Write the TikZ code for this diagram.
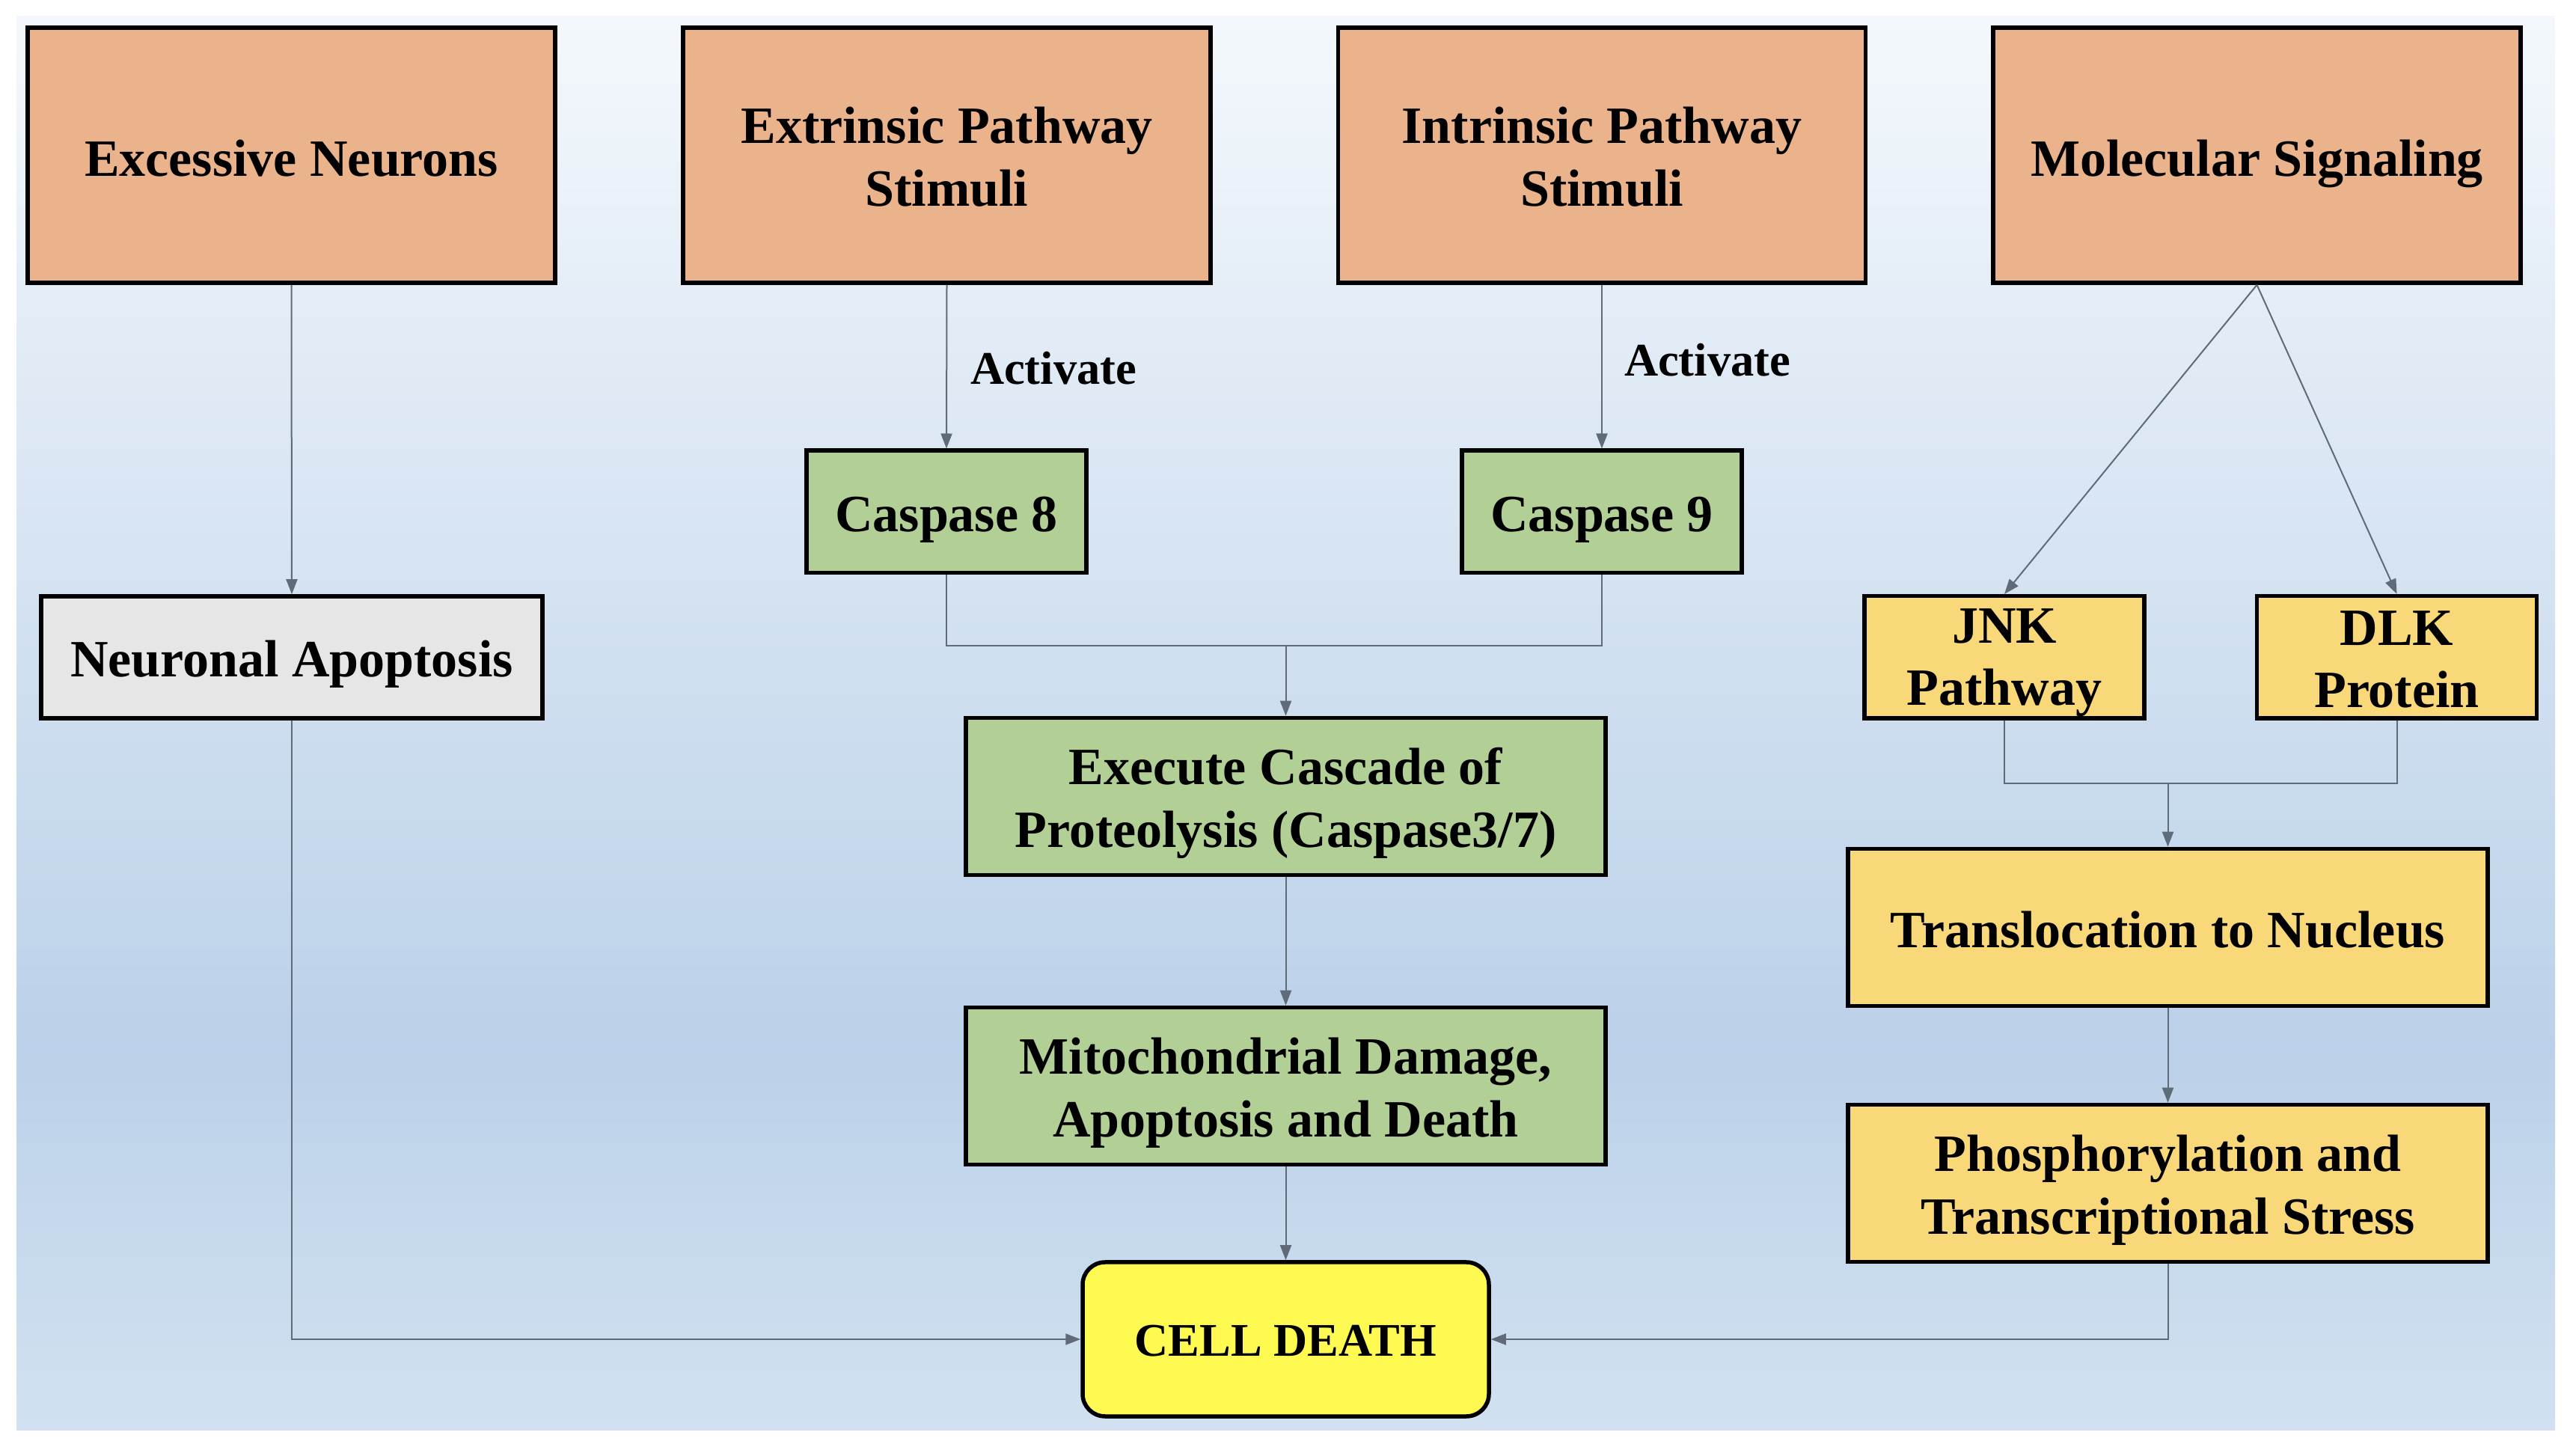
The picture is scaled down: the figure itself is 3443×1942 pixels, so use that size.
\documentclass[tikz,border=0pt]{standalone}
\usepackage{fontspec}
\setmainfont{Liberation Serif}
\usetikzlibrary{arrows.meta,shadows}
\definecolor{peach}{HTML}{EBB38B}
\definecolor{leaf}{HTML}{B2CF96}
\definecolor{sand}{HTML}{F9D87A}
\definecolor{pale}{HTML}{E6E6E6}
\definecolor{lemon}{HTML}{FFFA52}
\definecolor{wire}{HTML}{5F6B78}
\definecolor{bgtop}{HTML}{F4F8FC}
\definecolor{bgmid}{HTML}{BBD1E9}
\definecolor{bgbot}{HTML}{D2E1F1}
\tikzset{
  box/.style={draw=black, line width=1.1pt, inner sep=0pt,
    drop shadow={shadow xshift=0.4pt, shadow yshift=-0.4pt, fill=black, opacity=0.25}},
  topbox/.style={box, fill=peach, minimum width=141pt, minimum height=68.2pt},
  smallbox/.style={box, minimum width=74.8pt, minimum height=32.7pt},
  widebox/.style={box, minimum width=171pt, minimum height=42pt},
  txt/.style={inner sep=0pt, align=center, font=\fontsize{14}{16.7}\selectfont\bfseries},
  onetxt/.style={txt, text height=9.5pt, text depth=0pt},
  lbl/.style={font=\fontsize{12.5}{15}\selectfont\bfseries, inner sep=0pt},
  wireline/.style={draw=wire, line width=0.4pt},
  conn/.style={wireline, -{Triangle[length=4pt,width=3pt]}}
}
\begin{document}
\begin{tikzpicture}[x=0.2pt, y=-0.2pt]
\useasboundingbox (0,0) rectangle (3443,1942);
\fill[white] (0,0) rectangle (3443,1942);
\shade[top color=bgtop, bottom color=bgmid] (22,22) rectangle (3415,1400);
\shade[top color=bgmid, bottom color=bgbot] (22,1399) rectangle (3415,1911);

% top row
\node[topbox] (en)  at (389.5,207.5)  {};
\node[topbox] (ext) at (1265.5,207.5) {};
\node[topbox] (int) at (2141,207.5)   {};
\node[topbox] (mol) at (3016.5,207.5) {};
\node[onetxt] (en-t)  at ([yshift=-0.9pt]en.center)  {Excessive Neurons};
\node[txt]    (ext-t) at ([yshift=-0.4pt]ext.center) {Extrinsic Pathway\\Stimuli};
\node[txt]    (int-t) at ([yshift=-0.4pt]int.center) {Intrinsic Pathway\\Stimuli};
\node[onetxt] (mol-t) at ([yshift=-0.9pt]mol.center) {Molecular Signaling};

% second row
\node[smallbox, fill=leaf] (c8) at (1265,684) {};
\node[smallbox, fill=leaf] (c9) at (2141,684) {};
\node[box, fill=pale, minimum width=134pt, minimum height=32.6pt] (na) at (390,878.5) {};
\node[smallbox, fill=sand] (jnk) at (2679,878.5) {};
\node[smallbox, fill=sand] (dlk) at (3203.5,878.5) {};
\node[onetxt] (c8-t) at ([yshift=-0.5pt]c8.center) {Caspase 8};
\node[onetxt] (c9-t) at ([yshift=-0.5pt]c9.center) {Caspase 9};
\node[onetxt] (na-t) at ([yshift=-0.5pt]na.center) {Neuronal Apoptosis};
\node[txt] (jnk-t) at ([yshift=-1.4pt]jnk.center) {JNK\\Pathway};
\node[txt] (dlk-t) at ([yshift=-0.6pt]dlk.center) {DLK\\Protein};

% lower boxes
\node[widebox, fill=leaf] (ex) at (1718.5,1064.5) {};
\node[widebox, fill=leaf] (mi) at (1718.5,1451.5) {};
\node[widebox, fill=sand] (tr) at (2897.5,1239.5) {};
\node[widebox, fill=sand] (ph) at (2897.5,1581.5) {};
\node[box, fill=lemon, rounded corners=6pt, minimum width=108.6pt, minimum height=41.2pt] (cd) at (1718.5,1790) {};
\node[txt] (ex-t) at ([yshift=-1.8pt]ex.center) {Execute Cascade of\\Proteolysis (Caspase3/7)};
\node[txt] (mi-t) at ([yshift=-1.8pt]mi.center) {Mitochondrial Damage,\\Apoptosis and Death};
\node[onetxt] (tr-t) at ([yshift=-0.6pt]tr.center) {Translocation to Nucleus};
\node[txt] (ph-t) at ([yshift=-1.8pt]ph.center) {Phosphorylation and\\Transcriptional Stress};
\node[lbl, text height=8.5pt, text depth=0pt] (cd-t) at ([yshift=-0.3pt]cd.center) {CELL DEATH};

% labels
\node[lbl, anchor=west] (a1) at (1296,492) {Activate};
\node[lbl, anchor=west] (a2) at (2170,481) {Activate};

% connectors
\draw[conn] (en.south) -- (na.north);
\draw[conn] (na.south) |- (cd.west);
\draw[conn] (ext.south) -- (c8.north);
\draw[conn] (int.south) -- (c9.north);
\coordinate (m1) at (1718.5,863);
\draw[wireline] (c8.south) |- (m1) -| (c9.south);
\draw[conn] (m1) -- (ex.north);
\draw[conn] (ex.south) -- (mi.north);
\draw[conn] (mi.south) -- (cd.north);
\draw[conn] (mol.south) -- (jnk.north);
\draw[conn] (mol.south) -- (dlk.north);
\coordinate (m2) at (2897.5,1047);
\draw[wireline] (jnk.south) |- (m2) -| (dlk.south);
\draw[conn] (m2) -- (tr.north);
\draw[conn] (tr.south) -- (ph.north);
\draw[conn] (ph.south) |- (cd.east);
\end{tikzpicture}
\end{document}
